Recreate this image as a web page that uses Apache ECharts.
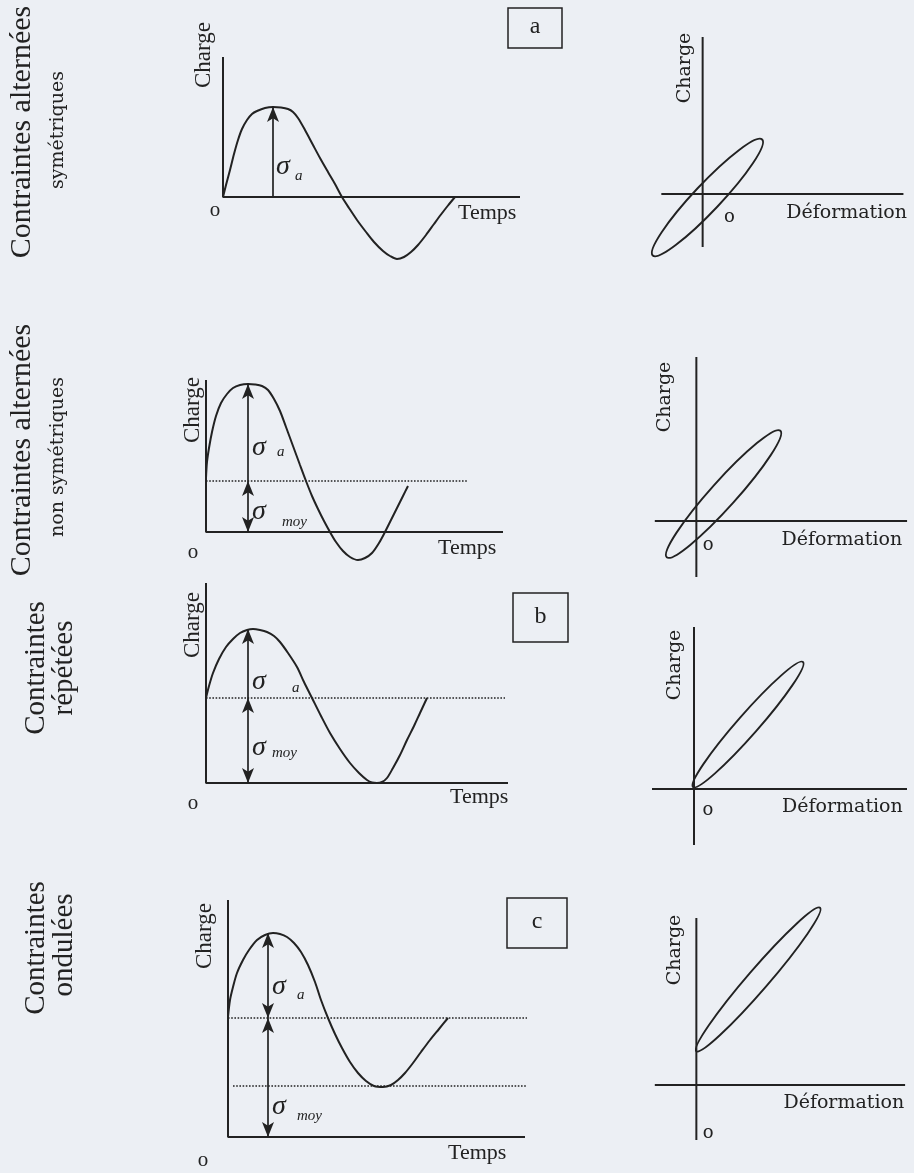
<!DOCTYPE html>
<html>
<head>
<meta charset="utf-8">
<script src="https://cdn.jsdelivr.net/npm/echarts@6/dist/echarts.min.js"></script>
<style>
  html, body { margin: 0; padding: 0; background: #eceff4; }
  #chart { width: 914px; height: 1173px; }
</style>
</head>
<body>
<div id="chart"></div>
<script>
// ---------- diagram data (arbitrary units: time / strain on x, load on y) ----------

// Load versus time, one curve per loading type
const loadSymmetric = [[0,0],[0.3,1.2],[0.7,2.7],[1.1,4.3],[1.5,5.7],[1.9,6.8],[2.4,7.7],[2.9,8.3],[3.4,8.6],[4.2,8.9],[5.0,9.0],[5.8,8.95],[6.5,8.8],[7.0,8.5],[7.5,7.9],[8.2,6.7],[9.0,5.2],[9.7,3.9],[10.5,2.5],[11.2,1.3],[11.9,0],[12.6,-1.1],[13.4,-2.3],[14.3,-3.5],[15.1,-4.5],[16.0,-5.4],[16.7,-5.9],[17.4,-6.2],[18.1,-6.0],[18.8,-5.5],[19.5,-4.8],[20.3,-3.8],[21.1,-2.7],[21.8,-1.75],[22.5,-0.85],[23.2,0]];
const loadNonSymmetric = [[0,5.4],[0.1,7.0],[0.3,8.4],[0.6,10.0],[1.0,11.6],[1.5,12.9],[2.1,13.8],[2.7,14.4],[3.4,14.7],[4.2,14.8],[4.9,14.75],[5.6,14.6],[6.2,14.2],[6.8,13.3],[7.4,12.1],[8.0,10.5],[8.7,8.6],[9.4,6.7],[10.0,5.1],[10.6,3.6],[11.2,2.3],[11.8,1.1],[12.4,0],[13.0,-1.0],[13.7,-1.9],[14.4,-2.5],[15.2,-2.8],[15.9,-2.6],[16.6,-2.1],[17.3,-1.1],[17.9,0],[18.5,1.2],[19.1,2.4],[19.7,3.6],[20.2,4.6]];
const loadRepeated = [[0,8.5],[0.3,9.7],[0.7,11.0],[1.3,12.4],[2.0,13.6],[2.7,14.4],[3.4,15.0],[4.1,15.3],[4.7,15.4],[5.4,15.3],[6.1,15.1],[6.8,14.7],[7.4,14.1],[8.2,13.0],[9.1,11.6],[9.8,10.1],[10.6,8.5],[11.5,6.7],[12.4,5.0],[13.4,3.4],[14.4,2.0],[15.3,1.0],[16.1,0.3],[16.6,0.05],[17.1,0],[17.6,0.1],[18.1,0.5],[18.7,1.5],[19.4,2.8],[20.1,4.3],[20.8,5.7],[21.4,7.0],[22.1,8.5]];
const loadUndulating = [[0,12.0],[0.2,13.7],[0.5,15.0],[0.9,16.4],[1.5,17.7],[2.1,18.7],[2.9,19.7],[3.7,20.2],[4.5,20.4],[5.2,20.3],[5.9,20.0],[6.6,19.4],[7.3,18.5],[8.0,17.2],[8.7,15.5],[9.3,13.7],[10.0,11.9],[10.7,10.3],[11.4,8.9],[12.2,7.5],[13.0,6.4],[13.8,5.6],[14.6,5.1],[15.5,5.0],[16.3,5.2],[17.0,5.7],[17.7,6.4],[18.5,7.4],[19.3,8.5],[20.2,9.7],[21.1,10.8],[22.0,11.9]];
const timeCurves = [loadSymmetric, loadNonSymmetric, loadRepeated, loadUndulating];

// Ends of the time / load axes of each load-time plot: [time end, load end]
const timeAxisEnds = [[29.7,14.0],[29.7,15.2],[30.2,20.0],[29.7,23.7]];

// Mean stress level, its dotted guide end, and the amplitude arrow position
const meanLevels = [0, 5.1, 8.5, 11.9];
const meanGuideEnds = [0, 26.2, 29.9, 29.9];
const peakLevels = [9.0, 14.8, 15.4, 20.4];
const arrowTimes = [5.0, 4.2, 4.2, 4.0];
// Lower dotted guide of the undulating case: [level, start, end]
const troughGuide = [5.1, 0.5, 29.9];

// Load versus strain: axis extents [xmin, xmax, ymin, ymax]
const strainAxisEnds = [[-4.3,20.9,-5.3,15.7],[-4.2,21.3,-5.6,16.4],[-4.2,21.3,-5.6,16.2],[-4.2,21.1,-5.5,16.7]];
// Hysteresis loops: [centre strain, centre load, semi-major, semi-minor, tilt in degrees]
const loops = [[0.5,-0.35,8.3,1.35,46.7],[2.75,2.7,8.6,1.3,48.1],[5.4,6.45,8.33,1.05,48.7],[6.25,10.55,9.57,1.05,49.2]];

// Row titles (first line, second line)
const rowTitles = [
  ['Contraintes alternées', 'symétriques'],
  ['Contraintes alternées', 'non symétriques'],
  ['Contraintes', 'répétées'],
  ['Contraintes', 'ondulées']
];
const boxLetters = ['a', 'b', 'c'];

// Text placed in each plot: [x, y, text, kind]
const timeTexts = [
  [[5.3,3.0,'σ','sigma'],[7.2,2.1,'a','sub'],[-0.8,-1.3,'o','o'],[23.5,-1.6,'Temps','temps'],[-1.9,14.2,'Charge','charge']],
  [[4.6,8.4,'σ','sigma'],[7.1,8.0,'a','sub'],[4.6,2.0,'σ','sigma'],[7.6,1.0,'moy','sub'],[-1.3,-2.0,'o','o'],[23.2,-1.6,'Temps','temps'],[-1.3,12.2,'Charge','charge']],
  [[4.6,10.1,'σ','sigma'],[8.6,9.5,'a','sub'],[4.6,3.5,'σ','sigma'],[6.6,3.0,'moy','sub'],[-1.3,-2.0,'o','o'],[24.4,-1.4,'Temps','temps'],[-1.3,15.8,'Charge','charge']],
  [[4.4,15.0,'σ','sigma'],[6.9,14.2,'a','sub'],[4.4,3.0,'σ','sigma'],[6.9,2.1,'moy','sub'],[-2.5,-2.3,'o','o'],[22.0,-1.6,'Temps','temps'],[-2.3,20.1,'Charge','charge']]
];
const strainTexts = [
  [[-1.8,12.6,'Charge','chargeR'],[2.8,-2.3,'o','oR'],[8.7,-1.9,'Déformation','def']],
  [[-3.2,12.4,'Charge','chargeR'],[1.2,-2.4,'o','oR'],[8.6,-1.9,'Déformation','def']],
  [[-1.9,12.4,'Charge','chargeR'],[1.4,-2.1,'o','oR'],[8.8,-1.8,'Déformation','def']],
  [[-2.2,13.5,'Charge','chargeR'],[1.2,-4.8,'o','oR'],[8.8,-1.8,'Déformation','def']]
];

// ---------- layout and styles ----------
const INK = '#222222';
const SERIF = '"Liberation Serif", "Times New Roman", serif';
const BOOK = '"DejaVu Serif", serif';
const PX = 10; // pixels per unit, equal on both axes so the loops keep their shape

// Origin of each plot on the page and its visible data window
const frames = [
  { ox: 223, oy: 197,  x: [-4, 33], y: [-8, 16] },
  { ox: 705, oy: 194,  x: [-6, 22], y: [-7, 17] },
  { ox: 206, oy: 532,  x: [-3, 31], y: [-5, 17] },
  { ox: 697, oy: 521,  x: [-6, 22], y: [-7, 18] },
  { ox: 206, oy: 783,  x: [-3, 32], y: [-4, 21] },
  { ox: 694, oy: 789,  x: [-6, 22], y: [-7, 18] },
  { ox: 228, oy: 1137, x: [-4, 31], y: [-3, 25] },
  { ox: 697, oy: 1085, x: [-6, 22], y: [-7, 19] }
];

const textKinds = {
  sigma:   { fontFamily: SERIF, fontSize: 28, fontStyle: 'italic', align: 'left' },
  sub:     { fontFamily: SERIF, fontSize: 15, fontStyle: 'italic', align: 'left' },
  o:       { fontFamily: SERIF, fontSize: 21, align: 'center' },
  temps:   { fontFamily: SERIF, fontSize: 22, align: 'left' },
  charge:  { fontFamily: SERIF, fontSize: 23, align: 'center', rotate: 90 },
  chargeR: { fontFamily: BOOK,  fontSize: 19, align: 'center', rotate: 90 },
  def:     { fontFamily: BOOK,  fontSize: 19, align: 'left' },
  oR:      { fontFamily: BOOK,  fontSize: 18, align: 'center' }
};

const grid = frames.map(f => ({
  left: f.ox + f.x[0] * PX,
  top: f.oy - f.y[1] * PX,
  width: (f.x[1] - f.x[0]) * PX,
  height: (f.y[1] - f.y[0]) * PX
}));
const xAxis = frames.map((f, i) => ({ type: 'value', gridIndex: i, min: f.x[0], max: f.x[1], show: false }));
const yAxis = frames.map((f, i) => ({ type: 'value', gridIndex: i, min: f.y[0], max: f.y[1], show: false }));

function lineSeries(g, data, width, type) {
  return {
    type: 'line', xAxisIndex: g, yAxisIndex: g, data: data,
    symbol: 'none', silent: true, clip: false,
    lineStyle: { color: INK, width: width, type: type || 'solid', opacity: 1 }
  };
}
function curveSeries(g, data) {
  const s = lineSeries(g, data, 2);
  s.smooth = 0.3;
  return s;
}
function arrow(x, y0, y1, headLow, headHigh) {
  return [
    { coord: [x, y0], symbol: headLow ? 'arrow' : 'none' },
    { coord: [x, y1], symbol: headHigh ? 'arrow' : 'none' }
  ];
}
function textSeries(g, items) {
  return {
    type: 'scatter', xAxisIndex: g, yAxisIndex: g, symbolSize: 0, silent: true, clip: false,
    itemStyle: { color: INK, opacity: 1 },
    data: items.map(t => {
      const k = textKinds[t[3]];
      return {
        value: [t[0], t[1]],
        label: {
          show: true, position: 'inside', formatter: t[2], color: INK, opacity: 1,
          textBorderWidth: 0,
          fontFamily: k.fontFamily, fontSize: k.fontSize, fontStyle: k.fontStyle || 'normal',
          align: k.align, verticalAlign: 'middle', rotate: k.rotate || 0
        }
      };
    })
  };
}
function loopSeries(g, loop) {
  return {
    type: 'custom', xAxisIndex: g, yAxisIndex: g, silent: true, clip: false,
    data: [loop],
    renderItem: function (params, api) {
      const c = api.coord([api.value(0), api.value(1)]);
      const r = api.size([api.value(2), api.value(3)]);
      return {
        type: 'ellipse',
        x: c[0], y: c[1],
        rotation: api.value(4) * Math.PI / 180,
        shape: { cx: 0, cy: 0, rx: r[0], ry: r[1] },
        style: { fill: 'none', stroke: INK, lineWidth: 1.9 }
      };
    }
  };
}

const series = [];
for (let r = 0; r < 4; r++) {
  const gt = 2 * r, gs = 2 * r + 1;
  const ends = timeAxisEnds[r];
  const axes = lineSeries(gt, [[ends[0], 0], [0, 0], [0, ends[1]]], 2);
  const arrows = [];
  if (r === 0) {
    arrows.push(arrow(arrowTimes[r], 0, peakLevels[r], false, true));
  } else {
    arrows.push(arrow(arrowTimes[r], meanLevels[r], peakLevels[r], r === 3, true));
    arrows.push(arrow(arrowTimes[r], 0, meanLevels[r], true, true));
  }
  axes.markLine = {
    silent: true, animation: false, symbolSize: [9, 15],
    label: { show: false },
    itemStyle: { color: INK },
    lineStyle: { color: INK, width: 1.7, type: 'solid', opacity: 1 },
    data: arrows
  };
  series.push(axes);
  if (r > 0) {
    series.push(lineSeries(gt, [[0, meanLevels[r]], [meanGuideEnds[r], meanLevels[r]]], 1.6, 'dotted'));
  }
  if (r === 3) {
    series.push(lineSeries(gt, [[troughGuide[1], troughGuide[0]], [troughGuide[2], troughGuide[0]]], 1.6, 'dotted'));
  }
  series.push(curveSeries(gt, timeCurves[r]));
  series.push(textSeries(gt, timeTexts[r]));

  const se = strainAxisEnds[r];
  series.push(lineSeries(gs, [[se[0], 0], [se[1], 0]], 2));
  series.push(lineSeries(gs, [[0, se[2]], [0, se[3]]], 2));
  series.push(loopSeries(gs, loops[r]));
  series.push(textSeries(gs, strainTexts[r]));
}

// Row titles on the left, read bottom to top
const titlePlaces = [
  [[22, 132, 30], [58, 130, 19]],
  [[22, 450, 30], [58, 457, 19]],
  [[36, 668, 29], [64, 668, 29]],
  [[36, 948, 29], [64, 945, 29]]
];
const graphic = [];
rowTitles.forEach((lines, r) => {
  lines.forEach((txt, j) => {
    const p = titlePlaces[r][j];
    const small = r < 2 && j === 1;
    graphic.push({
      type: 'text', x: p[0], y: p[1], rotation: Math.PI / 2, silent: true,
      style: {
        text: txt, fill: INK, align: 'center', verticalAlign: 'middle',
        font: p[2] + 'px ' + (small ? BOOK : SERIF)
      }
    });
  });
});

// Framed case letters
const boxPlaces = [[508, 8, 54, 40], [513, 593, 55, 49], [507, 898, 60, 50]];
boxLetters.forEach((ch, i) => {
  const b = boxPlaces[i];
  graphic.push({
    type: 'rect', silent: true,
    shape: { x: b[0], y: b[1], width: b[2], height: b[3] },
    style: { fill: 'none', stroke: INK, lineWidth: 1.5 }
  });
  graphic.push({
    type: 'text', silent: true, x: b[0] + b[2] / 2, y: b[1] + b[3] / 2 - 1,
    style: { text: ch, fill: INK, align: 'center', verticalAlign: 'middle', font: '24px ' + SERIF }
  });
});

const chart = echarts.init(document.getElementById('chart'), null, { renderer: 'canvas' });
chart.setOption({
  backgroundColor: '#eceff4',
  animation: false,
  grid: grid,
  xAxis: xAxis,
  yAxis: yAxis,
  series: series,
  graphic: graphic
});
</script>
</body>
</html>
